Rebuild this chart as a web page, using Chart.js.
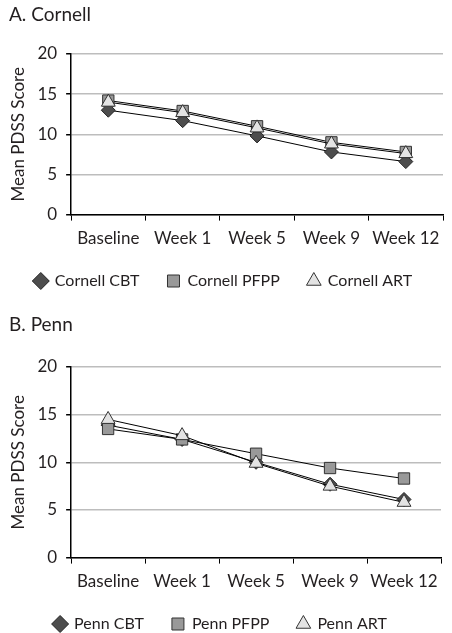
<!DOCTYPE html>
<html>
<head>
<meta charset="utf-8">
<script src="https://cdn.jsdelivr.net/npm/chart.js@4.4.0/dist/chart.umd.min.js"></script>
<style>
  body { margin: 0; background: #fff; font-family: Lato, sans-serif; color: #231f20; overflow: hidden; }
  .panel { position: relative; width: 452px; }
  .panel h2 { position: absolute; left: 9px; top: 2px; margin: 0; font-weight: normal; font-size: 19px; }
</style>
</head>
<body>
<div class="panel" id="p1">
  <h2>A. Cornell</h2>
  <canvas id="cornell" width="452" height="310"></canvas>
</div>
<div class="panel" id="p2">
  <h2>B. Penn</h2>
  <canvas id="penn" width="452" height="332"></canvas>
</div>
<script>
var weeks = ["Baseline", "Week 1", "Week 5", "Week 9", "Week 12"];
var yTicks = [0, 5, 10, 15, 20];

var cornellCBT  = [13.0, 11.7, 9.8, 7.8, 6.6];
var cornellPFPP = [14.2, 12.9, 11.0, 9.0, 7.8];
var cornellART  = [14.0, 12.7, 10.8, 8.8, 7.6];

var pennCBT  = [13.9, 12.4, 10.0, 7.7, 6.1];
var pennPFPP = [13.5, 12.4, 10.9, 9.4, 8.3];
var pennART  = [14.5, 12.8, 9.9, 7.5, 5.8];

var txt = '#231f20';

function makeChart(id, name, cbt, pfpp, art, pad)
{
	new Chart(document.getElementById(id),
	{
		type: 'line',
		data:
		{
			labels: weeks,
			datasets:
			[{
				label: name + " CBT",
				data: cbt,
				borderColor: '#000',
				borderWidth: 1,
				pointStyle: 'rectRot',
				pointRadius: 7,
				pointBackgroundColor: '#4d4d4d',
				pointBorderColor: '#222',
				backgroundColor: '#4d4d4d',
				order: 2
			},
			{
				label: name + " PFPP",
				data: pfpp,
				borderColor: '#000',
				borderWidth: 1,
				pointStyle: 'rect',
				pointRadius: 8,
				pointBackgroundColor: '#999',
				pointBorderColor: '#333',
				backgroundColor: '#999',
				order: 1
			},
			{
				label: name + " ART",
				data: art,
				borderColor: '#000',
				borderWidth: 1,
				pointStyle: 'triangle',
				pointRadius: 8,
				pointBackgroundColor: '#e3e3e3',
				pointBorderColor: '#333',
				backgroundColor: '#e3e3e3',
				order: 0
			}]
		},
		options:
		{
			responsive: false,
			animation: false,
			layout: { padding: pad },
			plugins:
			{
				legend:
				{
					position: 'bottom',
					labels:
					{
						usePointStyle: true,
						boxWidth: 12,
						boxHeight: 12,
						padding: 28,
						color: txt,
						font: { family: 'Lato', size: 16 },
						sort: function(a, b) { return a.datasetIndex - b.datasetIndex; }
					}
				},
				tooltip: { enabled: false }
			},
			scales:
			{
				x:
				{
					offset: true,
					border: { color: '#000', width: 1.5 },
					grid: { offset: true, drawOnChartArea: false, tickLength: 6, tickColor: '#000' },
					ticks: { color: txt, padding: 8, font: { family: 'Lato', size: 17 } },
					afterFit: function(axis) { axis.height -= 12; }
				},
				y:
				{
					min: 0,
					max: 20,
					afterBuildTicks: function(axis) { axis.ticks = yTicks.map(function(v) { return { value: v }; }); },
					border: { color: '#000', width: 1.5 },
					grid: { color: '#bdbdbd', lineWidth: 1.5, tickLength: 5, tickColor: '#000' },
					ticks: { color: txt, padding: 9, font: { family: 'Lato', size: 17 } },
					title: { display: true, text: 'Mean PDSS Score', color: txt, padding: { top: 8, bottom: 0 }, font: { family: 'Lato', size: 17 } }
				}
			}
		}
	});
}

makeChart("cornell", "Cornell", cornellCBT, cornellPFPP, cornellART, { top: 54, left: 0, right: 5, bottom: 11 });
makeChart("penn", "Penn", pennCBT, pennPFPP, pennART, { top: 57, left: 0, right: 11, bottom: 0 });
</script>
</body>
</html>
